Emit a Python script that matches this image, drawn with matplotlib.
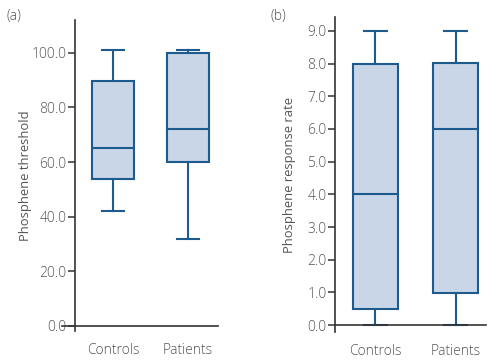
import matplotlib
matplotlib.use("Agg")
from matplotlib import pyplot as plt
from matplotlib.lines import Line2D

# Summary stats (whisker low, Q1, median, Q3, whisker high)
groups = ["Controls", "Patients"]

thr_low = [42.0, 32.0]
thr_q1 = [53.7, 60.0]
thr_med = [65.0, 72.0]
thr_q3 = [89.5, 99.8]
thr_high = [101.0, 101.0]

rate_low = [0.0, 0.0]
rate_q1 = [0.48, 0.97]
rate_med = [4.02, 6.0]
rate_q3 = [8.0, 8.02]
rate_high = [9.0, 8.98]

thr_ticks = [0, 20, 40, 60, 80, 100]
rate_ticks = [0, 1, 2, 3, 4, 5, 6, 7, 8, 9]

edge = "#1d5a8e"
fill = "#c9d6e7"
axcol = "#333333"
txtcol = "#555555"

plt.rcParams['font.family'] = ['Open Sans', 'DejaVu Sans']
plt.rcParams['font.weight'] = 'light'


def make_stats(low, q1, med, q3, high):
    stats = []
    for i in range(len(groups)):
        stats.append(dict(whislo=low[i], q1=q1[i], med=med[i], q3=q3[i],
                          whishi=high[i], label=groups[i], fliers=[]))
    return stats


def draw(ax, stats, widths, ylabel, ticks, ylim, xlim, lpad):
    ax.bxp(stats, positions=[1, 2], widths=widths, capwidths=widths * 0.52,
           patch_artist=True, showfliers=False,
           boxprops=dict(facecolor=fill, edgecolor=edge, linewidth=1.5),
           medianprops=dict(color=edge, linewidth=1.5),
           whiskerprops=dict(color=edge, linewidth=1.5),
           capprops=dict(color=edge, linewidth=1.5))
    ax.set_xlim(*xlim)
    ax.set_ylim(*ylim)
    ax.set_yticks(ticks)
    ax.set_yticklabels(["%.1f" % t for t in ticks])
    ax.set_ylabel(ylabel, fontsize=9.4, color=txtcol, labelpad=lpad)
    for s in ["top", "right", "bottom"]:
        ax.spines[s].set_visible(False)
    ax.spines["left"].set_color(axcol)
    ax.spines["left"].set_linewidth(1.2)
    ax.spines["left"].set_zorder(4)
    ax.tick_params(axis="y", length=5, width=1.1, color=axcol, labelsize=10,
                   labelcolor=txtcol, pad=1)
    ax.tick_params(axis="x", length=0, labelsize=10, labelcolor=txtcol, pad=9)


fig = plt.figure(figsize=(4.97, 3.64), dpi=100)

ax1 = fig.add_axes([0.151, 0.091, 0.288, 0.854])
draw(ax1, make_stats(thr_low, thr_q1, thr_med, thr_q3, thr_high), 0.56,
     "Phosphene threshold", thr_ticks, (-1.8, 112), (0.493, 2.4), 0)
# x-axis line at zero, running a bit left of the spine
ax1.add_line(Line2D([-0.09, 1.0], [0, 0], transform=ax1.get_yaxis_transform(),
                    color=axcol, linewidth=1.2, clip_on=False, zorder=4))

ax2 = fig.add_axes([0.674, 0.088, 0.304, 0.865])
draw(ax2, make_stats(rate_low, rate_q1, rate_med, rate_q3, rate_high), 0.57,
     "Phosphene response rate", rate_ticks, (-0.21, 9.42), (0.495, 2.38), 8)
ax2.add_line(Line2D([0, 1.0], [0, 0], transform=ax2.get_yaxis_transform(),
                    color=axcol, linewidth=1.2, clip_on=False, zorder=4))

fig.text(0.013, 0.975, "(a)", fontsize=10, color=txtcol, va="top")
fig.text(0.545, 0.975, "(b)", fontsize=10, color=txtcol, va="top")

fig.savefig("out.png", dpi=100)
